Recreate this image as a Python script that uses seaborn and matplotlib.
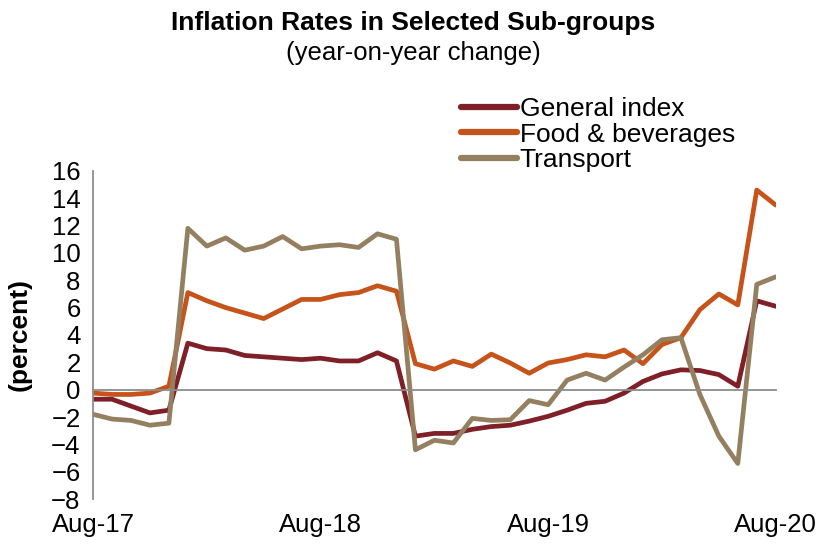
import numpy as np
import pandas as pd
import matplotlib
matplotlib.use("Agg")
import matplotlib.pyplot as plt
import seaborn as sns

months = pd.date_range("2017-08-01", "2020-08-01", freq="MS")
tick_labels = ["Aug-17", "Aug-18", "Aug-19", "Aug-20"]

general = [-0.7, -0.7, -1.2, -1.7, -1.5, 3.4, 3.0, 2.9, 2.5, 2.4, 2.3, 2.2, 2.3,
           2.1, 2.1, 2.7, 2.1, -3.4, -3.2, -3.2, -2.9, -2.7, -2.6, -2.3, -1.95,
           -1.5, -1.0, -0.85, -0.25, 0.6, 1.15, 1.45, 1.4, 1.1, 0.25, 6.5, 6.1]
food = [-0.25, -0.35, -0.35, -0.25, 0.25, 7.1, 6.5, 6.0, 5.6, 5.2, 5.9, 6.6, 6.6,
        6.95, 7.1, 7.6, 7.2, 1.9, 1.5, 2.1, 1.7, 2.6, 1.95, 1.2, 1.95,
        2.2, 2.55, 2.4, 2.9, 1.9, 3.3, 3.8, 5.85, 7.0, 6.2, 14.6, 13.5]
transport = [-1.8, -2.15, -2.25, -2.6, -2.45, 11.8, 10.5, 11.1, 10.2, 10.5, 11.2, 10.3, 10.5,
             10.6, 10.4, 11.4, 11.0, -4.4, -3.7, -3.9, -2.1, -2.25, -2.2, -0.8, -1.1,
             0.7, 1.2, 0.7, 1.65, 2.55, 3.65, 3.8, -0.35, -3.4, -5.4, 7.7, 8.25]

series = ["General index", "Food & beverages", "Transport"]
colors = ["#7F1F28", "#C5531A", "#948060"]

df = pd.DataFrame({"month": np.arange(len(months)), "General index": general,
                   "Food & beverages": food, "Transport": transport})
long = df.melt(id_vars="month", var_name="series", value_name="value")

sns.set_style("white")
plt.rcParams["font.family"] = ["Liberation Sans", "DejaVu Sans"]
plt.rcParams["text.color"] = "black"
plt.rcParams["axes.labelcolor"] = "black"

fig = plt.figure(figsize=(8.27, 5.46), dpi=100)
ax = fig.add_axes([0.1125, 0.086, 0.8255, 0.601])

sns.lineplot(data=long, x="month", y="value", hue="series", hue_order=series,
             palette=colors, linewidth=3.4, ax=ax, legend=False)

grey = "#8c8c8c"
ax.set_xlim(0, 36)
ax.set_ylim(-8, 16)
ax.set_yticks(np.arange(-8, 17, 2))
ax.tick_params(axis="y", labelsize=18.5, length=6, width=1.2, color=grey,
               labelcolor="black", direction="out", pad=3)

for s in ["top", "right"]:
    ax.spines[s].set_visible(False)
ax.spines["left"].set_color(grey)
ax.spines["left"].set_linewidth(1.3)
ax.spines["bottom"].set_position(("data", 0))
ax.spines["bottom"].set_color(grey)
ax.spines["bottom"].set_linewidth(1.3)
ax.set_xticks([0, 12, 24, 36])
ax.tick_params(axis="x", labelbottom=False, length=6, width=1.2, color=grey, direction="out")
ax.set_xlabel("")
ax.set_ylabel("(percent)", fontsize=19, fontweight="bold", labelpad=14)

sec = ax.secondary_xaxis("bottom")
sec.set_xticks([0, 12, 24, 36])
sec.set_xticklabels(tick_labels)
sec.tick_params(length=0, labelsize=18.5, pad=10, labelcolor="black")
sec.spines["bottom"].set_visible(False)

fig.text(0.5, 0.958, "Inflation Rates in Selected Sub-groups", ha="center", va="center",
         fontsize=19, fontweight="bold")
fig.text(0.5, 0.903, "(year-on-year change)", ha="center", va="center", fontsize=18.5)

handles = [plt.Line2D([], [], color=c, linewidth=4.5) for c in colors]
fig.legend(handles, series, loc="upper left", bbox_to_anchor=(0.558, 0.822), frameon=False,
           fontsize=19, handlelength=2.1, handletextpad=0.1, labelspacing=0.05,
           borderaxespad=0, borderpad=0)

fig.savefig("out.png", dpi=100)
